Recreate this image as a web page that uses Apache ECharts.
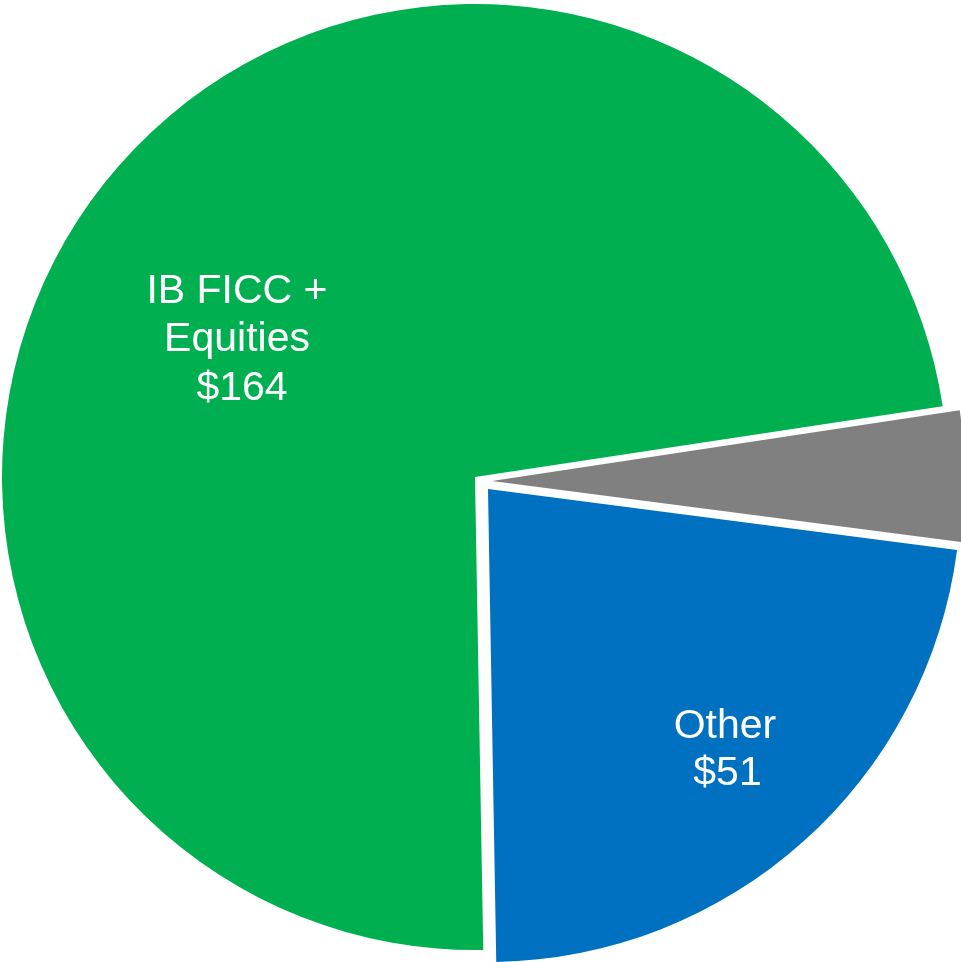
<!DOCTYPE html>
<html>
<head>
<meta charset="utf-8">
<script src="https://cdn.jsdelivr.net/npm/echarts@6/dist/echarts.min.js"></script>
<style>
  html, body { margin: 0; padding: 0; background: #ffffff; }
  #chart { width: 961px; height: 962px; }
</style>
</head>
<body>
<div id="chart"></div>
<script>
// Revenue split ($)
const categories = ['IB FICC + Equities', 'Remainder', 'Other'];
const labelText = ['IB FICC +\nEquities', '', 'Other'];
const values = [164, 10, 51];
const colors = ['#00B050', '#808080', '#0070C0'];

// Each slice is pulled out by its own amount, so each one gets its own pie layer
const sliceCenters = [[475, 477], [492, 481], [488, 489]];
const labelPos = [[237, 340], null, [725, 750]];
const labelLineHeight = [48.5, 0, 47];
const valueIndent = [10, 0, 5];

const chart = echarts.init(document.getElementById('chart'), null, { renderer: 'canvas' });

const series = values.map(function (_, k) {
  const font = {
    color: '#ffffff',
    fontFamily: '"Liberation Sans", Arial, sans-serif',
    fontSize: 41,
    lineHeight: labelLineHeight[k]
  };
  return {
    type: 'pie',
    silent: true,
    animation: false,
    center: sliceCenters[k],
    radius: 473,
    startAngle: -89,
    clockwise: true,
    avoidLabelOverlap: false,
    labelLine: { show: false },
    label: Object.assign({
      show: labelText[k] !== '',
      position: 'inside',
      align: 'center',
      rich: {
        t: Object.assign({}, font),
        v: Object.assign({ padding: [0, 0, 0, valueIndent[k]] }, font)
      },
      formatter: function (p) {
        const lines = labelText[p.dataIndex].split('\n').map(function (s) { return '{t|' + s + '}'; });
        lines.push('{v|$' + p.value + '}');
        return lines.join('\n');
      }
    }, font),
    labelLayout: labelPos[k] ? { x: labelPos[k][0], y: labelPos[k][1], align: 'center', verticalAlign: 'middle' } : null,
    data: values.map(function (v, i) {
      return {
        name: categories[i],
        value: v,
        itemStyle: { color: i === k ? colors[i] : 'rgba(0,0,0,0)', borderWidth: 0 },
        label: { show: i === k && labelText[i] !== '' }
      };
    })
  };
});

chart.setOption({
  backgroundColor: '#ffffff',
  animation: false,
  series: series
});
</script>
</body>
</html>
